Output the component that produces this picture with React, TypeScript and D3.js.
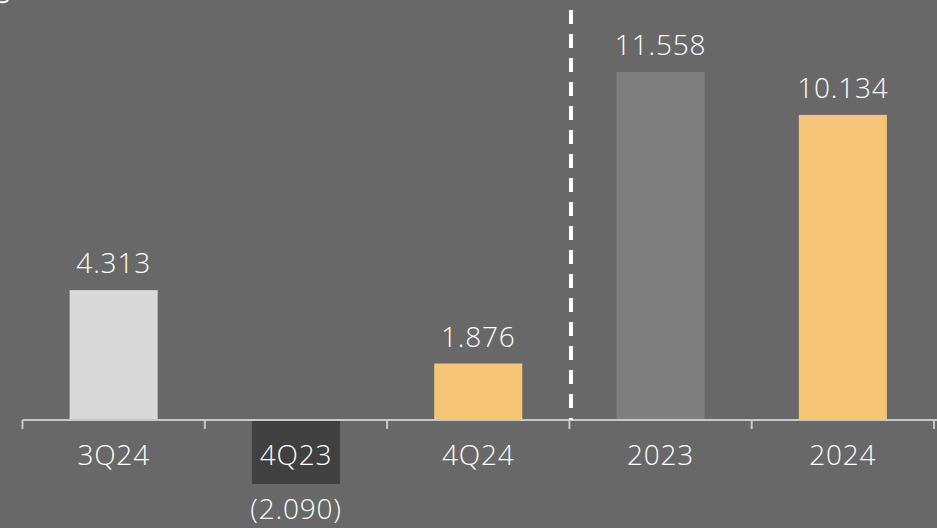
import React from "react";
import * as d3 from "d3";

const categories = ["3Q24", "4Q23", "4Q24", "2023", "2024"];
const values = [4.313, -2.09, 1.876, 11.558, 10.134];
const valueLabels = ["4.313", "(2.090)", "1.876", "11.558", "10.134"];
const barColors = ["#d9d9d9", "#404040", "#f7c577", "#7f7f7f", "#f7c577"];

const W = 937;
const H = 528;
const BG = "#676867";
const FONT = "'Open Sans', sans-serif";

export default function App() {
  const x0 = 22.5;
  const step = 182.3;
  const x = d3
    .scaleBand<string>()
    .domain(categories)
    .range([x0, x0 + step * categories.length])
    .paddingInner(0.517)
    .paddingOuter(0.2585);
  const y = d3.scaleLinear().domain([0, 11.558]).range([420, 72]);
  const tickXs = d3.range(categories.length + 1).map((i) => x0 + i * step);
  const dashX = 571;
  const textProps = {
    fill: "#ffffff",
    fontFamily: FONT,
    fontWeight: 300,
    fontSize: 28,
    letterSpacing: 0.8,
    textAnchor: "middle" as const,
  };

  return (
    <div style={{ position: "fixed", left: 0, top: 0, width: W, height: H }}>
      <svg width={W} height={H} style={{ display: "block" }}>
        <rect x={0} y={0} width={W} height={H} fill={BG} />
        {categories.map((c, i) => {
          const bw = x.bandwidth();
          const bx = x(c)!;
          const cx = bx + bw / 2;
          const v = values[i];
          const top = v >= 0 ? y(v) : y(0) + 1;
          const h = v >= 0 ? y(0) - y(v) : y(v) - y(0);
          return (
            <g key={c}>
              <rect x={bx} y={top} width={bw} height={h} fill={barColors[i]} />
              <text x={cx} y={v >= 0 ? y(v) - 17 : 519} {...textProps}>
                {valueLabels[i]}
              </text>
              <text x={cx} y={465} {...textProps}>
                {c}
              </text>
            </g>
          );
        })}
        <line x1={x0} x2={W} y1={y(0)} y2={y(0)} stroke="#c8c8c8" strokeWidth={2} />
        {tickXs.map((tx, i) => (
          <line key={i} x1={tx} x2={tx} y1={y(0)} y2={y(0) + 9} stroke="#c8c8c8" strokeWidth={2} />
        ))}
        <line x1={dashX} x2={dashX} y1={10} y2={420} stroke="#ffffff" strokeWidth={4} strokeDasharray="14 10" />
        <path d="M0,2 Q6,3 8,0" stroke="#ffffff" strokeWidth={2} fill="none" />
      </svg>
    </div>
  );
}
